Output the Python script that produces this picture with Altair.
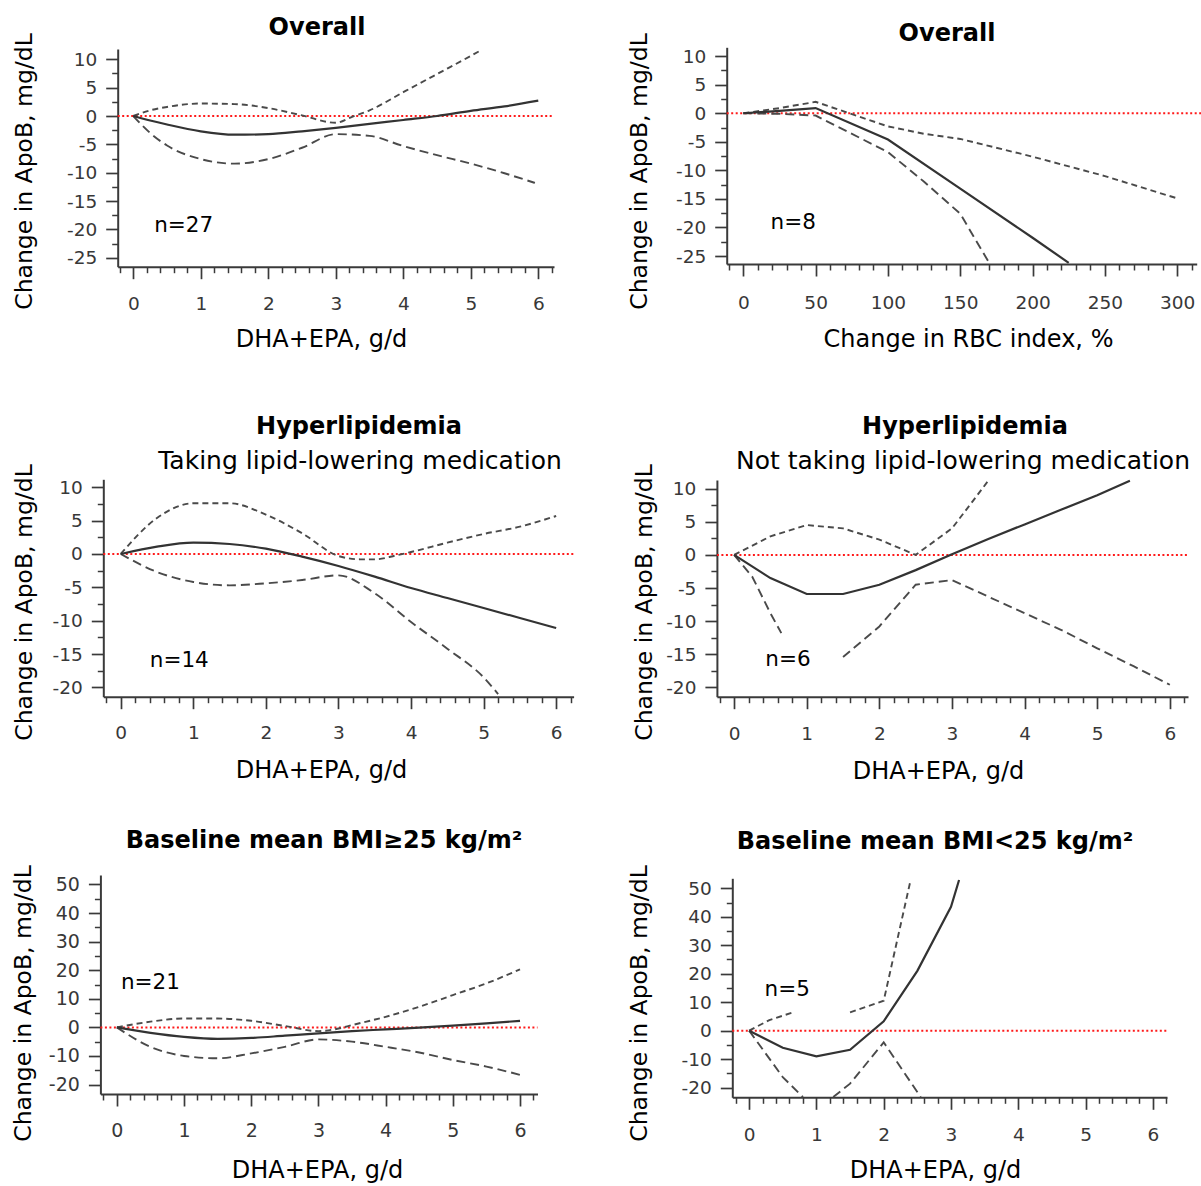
import altair as alt
import pandas as pd

FONT = "DejaVu Sans"
AXIS_INK = "#3a3a3a"
LABEL_INK = "#383838"
LINE_INK = "#333333"
DASH_INK = "#4a4a4a"
REF_RED = "#ff1a1a"
CHART_W = 1201
CHART_H = 1186

# ---------------------------------------------------------------------------
# Dose-response curves (estimate, upper and lower 95% bounds).
# None in an x list marks a break in the curve (points outside the plot range).
# ---------------------------------------------------------------------------

# Overall, DHA+EPA dose
P1_X = [0, 0.25, 0.5, 1.0, 1.5, 2.0, 2.5, 3.0, 3.5, 4.0, 4.5, 5.0, 5.5, 6.0]
P1_EST = [0, -0.8, -1.5, -2.7, -3.3, -3.2, -2.7, -2.1, -1.4, -0.7, 0.0, 0.9, 1.7, 2.7]
P1_HI_X = [0, 0.25, 0.5, 1.0, 1.5, 2.0, 2.5, 3.0, 3.25, 3.5, 4.0, 4.5, 5.0, 5.15]
P1_HI = [0, 1.0, 1.6, 2.2, 2.1, 1.4, 0.1, -1.2, -0.1, 1.0, 4.2, 7.4, 10.6, 11.6]
P1_LO_X = [0, 0.25, 0.5, 1.0, 1.5, 2.0, 2.5, 3.0, 3.5, 4.0, 4.5, 5.0, 5.5, 5.95]
P1_LO = [0, -3.0, -5.2, -7.6, -8.4, -7.6, -5.6, -3.2, -3.5, -5.3, -6.9, -8.4, -10.1, -11.8]

# Overall, change in RBC omega-3 index
P2_X = [0, 25, 50, 100, 150, 200, 225]
P2_EST = [0, 0.4, 0.9, -4.6, -13.2, -21.8, -26.2]
P2_HI_X = [0, 25, 50, 100, 125, 150, 200, 250, 300]
P2_HI = [0, 0.9, 2.0, -2.3, -3.6, -4.5, -7.6, -11.0, -14.9]
P2_LO_X = [0, 25, 50, 100, 125, 150, 170]
P2_LO = [0, -0.1, -0.4, -6.8, -12.0, -17.6, -26.2]

# Hyperlipidemia, taking lipid-lowering medication
P3_X = [0, 0.5, 1, 1.5, 2, 2.5, 3, 3.5, 4, 4.5, 5, 5.5, 6]
P3_EST = [0, 1.1, 1.7, 1.5, 0.8, -0.4, -1.8, -3.4, -5.1, -6.6, -8.1, -9.6, -11.1]
P3_HI_X = [0, 0.5, 1, 1.5, 2, 2.5, 3, 3.3, 3.5, 3.8, 4, 4.5, 5, 5.5, 6]
P3_HI = [0, 5.4, 7.6, 7.6, 5.9, 3.1, -0.3, -0.8, -0.8, -0.2, 0.3, 1.7, 3.0, 4.1, 5.7]
P3_LO_X = [0, 0.5, 1, 1.5, 2, 2.5, 3, 3.5, 4, 4.5, 5, 5.2]
P3_LO = [0, -2.7, -4.2, -4.7, -4.4, -3.9, -3.2, -5.9, -10.2, -14.2, -18.5, -21.0]

# Hyperlipidemia, not taking lipid-lowering medication
P4_X = [0, 0.5, 1, 1.5, 2, 2.5, 3, 3.5, 4, 4.5, 5, 5.45]
P4_EST = [0, -3.5, -5.9, -5.9, -4.5, -2.3, 0.1, 2.4, 4.6, 6.8, 9.0, 11.2]
P4_HI_X = [0, 0.5, 1, 1.5, 2, 2.5, 3, 3.3, 3.5]
P4_HI = [0, 2.8, 4.5, 4.0, 2.3, 0.0, 4.0, 8.3, 11.2]
P4_LO_X = [0, 0.25, 0.5, 0.65, None, 1.5, 2, 2.5, 3, 3.5, 4, 4.5, 5, 5.5, 6]
P4_LO = [0, -3.3, -8.8, -11.8, None, -15.4, -10.8, -4.5, -3.8, -6.3, -8.8, -11.3, -14.1, -16.8, -19.6]

# Baseline mean BMI >= 25
P5_X = [0, 0.5, 1, 1.5, 2, 2.5, 3, 3.5, 4, 4.5, 5, 5.5, 6]
P5_EST = [0, -1.9, -3.3, -4.0, -3.7, -2.9, -2.1, -1.3, -0.7, -0.1, 0.6, 1.4, 2.3]
P5_HI_X = [0, 0.5, 1, 1.5, 2, 2.5, 3, 3.3, 3.5, 4, 4.5, 5, 5.5, 6]
P5_HI = [0, 2.0, 3.1, 3.1, 2.3, 0.5, -1.3, -0.4, 0.8, 3.7, 7.2, 11.3, 15.4, 20.3]
P5_LO_X = [0, 0.5, 1, 1.5, 2, 2.5, 3, 3.5, 4, 4.5, 5, 5.5, 6]
P5_LO = [0, -6.8, -10.0, -10.8, -9.1, -6.8, -4.2, -5.0, -6.8, -8.8, -11.4, -13.7, -16.6]

# Baseline mean BMI < 25
P6_X = [0, 0.5, 1, 1.5, 2, 2.5, 3, 3.12]
P6_EST = [0, -6.0, -9.0, -6.7, 3.3, 21.0, 43.5, 52.9]
P6_HI_X = [0, 0.3, 0.65, None, 1.5, 2.0, 2.4]
P6_HI = [0, 3.7, 6.4, None, 6.4, 10.5, 52.9]
P6_LO_X = [0, 0.5, 0.8, None, 1.25, 1.5, 2.0, 2.55]
P6_LO = [0, -16.3, -23.3, None, -23.3, -18.6, -4.1, -23.3]

# Study counts shown in each panel
N_LABELS = ["n=27", "n=8", "n=14", "n=6", "n=21", "n=5"]

# Tick values
DOSE_MAJOR = [0, 1, 2, 3, 4, 5, 6]
DOSE_MINOR = [v / 10 for v in range(-2, 63, 2) if v % 10 != 0]
RBC_MAJOR = [0, 50, 100, 150, 200, 250, 300]
RBC_MINOR = [v for v in range(-10, 311, 10) if v % 50 != 0]
Y25_MAJOR = [10, 5, 0, -5, -10, -15, -20, -25]
Y25_MINOR = [7.5, 2.5, -2.5, -7.5, -12.5, -17.5, -22.5]
Y20_MAJOR = [10, 5, 0, -5, -10, -15, -20]
Y20_MINOR = [7.5, 2.5, -2.5, -7.5, -12.5, -17.5]
Y50_MAJOR = [50, 40, 30, 20, 10, 0, -10, -20]
Y50_MINOR = [45, 35, 25, 15, 5, -5, -15]

DOSE_TITLE = "DHA+EPA, g/d"
RBC_TITLE = "Change in RBC index, %"
Y_TITLE = "Change in ApoB, mg/dL"

# ---------------------------------------------------------------------------
# Panel layout: scale domains, pixel ranges and text placement
# ---------------------------------------------------------------------------
PANELS = [
    dict(x=P1_X, est=P1_EST, hi_x=P1_HI_X, hi=P1_HI, lo_x=P1_LO_X, lo=P1_LO,
         xdom=[-0.231, 6.233], xrng=[117.7, 554.0], ydom=[-26.58, 11.82], yrng=[266.7, 49.0],
         xmajor=DOSE_MAJOR, xminor=DOSE_MINOR, ymajor=Y25_MAJOR, yminor=Y25_MINOR,
         xtitle=DOSE_TITLE, xtitle_at=(321, 346), ytitle_at=(31, 171),
         n_at=(0.31, -20.4), ref_end=6.233, label_size=18.5, xlab_off=43, interp="monotone"),
    dict(x=P2_X, est=P2_EST, hi_x=P2_HI_X, hi=P2_HI, lo_x=P2_LO_X, lo=P2_LO,
         xdom=[-11.5, 313.5], xrng=[726.7, 1196.7], ydom=[-26.4, 11.55], yrng=[264.0, 47.3],
         xmajor=RBC_MAJOR, xminor=RBC_MINOR, ymajor=Y25_MAJOR, yminor=Y25_MINOR,
         xtitle=RBC_TITLE, xtitle_at=(968, 346), ytitle_at=(646, 171),
         n_at=(18.8, -20.2), ref_end=317, label_size=18.5, xlab_off=44, interp="linear"),
    dict(x=P3_X, est=P3_EST, hi_x=P3_HI_X, hi=P3_HI, lo_x=P3_LO_X, lo=P3_LO,
         xdom=[-0.24, 6.24], xrng=[103.3, 573.6], ydom=[-21.4, 11.2], yrng=[696.7, 479.3],
         xmajor=DOSE_MAJOR, xminor=DOSE_MINOR, ymajor=Y20_MAJOR, yminor=Y20_MINOR,
         xtitle=DOSE_TITLE, xtitle_at=(321, 777), ytitle_at=(31, 602),
         n_at=(0.40, -17.0), ref_end=6.24, label_size=18.5, xlab_off=42, interp="monotone"),
    dict(x=P4_X, est=P4_EST, hi_x=P4_HI_X, hi=P4_HI, lo_x=P4_LO_X, lo=P4_LO,
         xdom=[-0.237, 6.25], xrng=[716.9, 1188.0], ydom=[-21.4, 11.3], yrng=[696.7, 480.0],
         xmajor=DOSE_MAJOR, xminor=DOSE_MINOR, ymajor=Y20_MAJOR, yminor=Y20_MINOR,
         xtitle=DOSE_TITLE, xtitle_at=(938, 778), ytitle_at=(651, 602),
         n_at=(0.43, -16.8), ref_end=6.25, label_size=18.5, xlab_off=43, interp="linear"),
    dict(x=P5_X, est=P5_EST, hi_x=P5_HI_X, hi=P5_HI, lo_x=P5_LO_X, lo=P5_LO,
         xdom=[-0.245, 6.26], xrng=[100.4, 537.5], ydom=[-23.3, 53.3], yrng=[1094.0, 875.0],
         xmajor=DOSE_MAJOR, xminor=DOSE_MINOR, ymajor=Y50_MAJOR, yminor=Y50_MINOR,
         xtitle=DOSE_TITLE, xtitle_at=(317, 1177), ytitle_at=(30, 1003),
         n_at=(0.06, 13.6), ref_end=6.26, label_size=19, xlab_off=42, interp="monotone"),
    dict(x=P6_X, est=P6_EST, hi_x=P6_HI_X, hi=P6_HI, lo_x=P6_LO_X, lo=P6_LO,
         xdom=[-0.25, 6.21], xrng=[732.3, 1167.0], ydom=[-23.4, 53.5], yrng=[1097.3, 878.3],
         xmajor=DOSE_MAJOR, xminor=DOSE_MINOR, ymajor=Y50_MAJOR, yminor=Y50_MINOR,
         xtitle=DOSE_TITLE, xtitle_at=(935, 1177), ytitle_at=(646, 1003),
         n_at=(0.23, 12.2), ref_end=6.21, label_size=18.5, xlab_off=43, interp="linear"),
]

# Panel headings: (text, centre x, baseline y, size, weight)
HEADINGS = [
    ("Overall", 317, 35, 24, "bold"),
    ("Overall", 947, 41, 24, "bold"),
    ("Hyperlipidemia", 359, 434, 24, "bold"),
    ("Taking lipid-lowering medication", 360, 469, 25, "normal"),
    ("Hyperlipidemia", 965, 434, 24, "bold"),
    ("Not taking lipid-lowering medication", 963, 469, 25, "normal"),
    ("Baseline mean BMI\u226525 kg/m\u00b2", 324, 848, 24, "bold"),
    ("Baseline mean BMI<25 kg/m\u00b2", 935, 849, 24, "bold"),
]


def curve_frame(xs, ys):
    """Split a curve into connected segments wherever the x list holds None."""
    rows, seg = [], 0
    for xv, yv in zip(xs, ys):
        if xv is None:
            seg += 1
            continue
        rows.append({"x": xv, "y": yv, "seg": seg})
    return pd.DataFrame(rows)


def build_panel(p, n_label):
    x0, x1 = p["xrng"]
    y1, y0 = p["yrng"]
    xs = alt.Scale(domain=p["xdom"], range=p["xrng"], nice=False, zero=False)
    ys = alt.Scale(domain=p["ydom"], range=p["yrng"], nice=False, zero=False)

    x_major = alt.Axis(
        orient="bottom", offset=y1 - CHART_H, values=p["xmajor"], grid=False,
        domain=True, domainColor=AXIS_INK, domainWidth=2,
        ticks=True, tickColor=AXIS_INK, tickWidth=1.7, tickSize=12,
        labelFont=FONT, labelFontSize=p["label_size"], labelColor=LABEL_INK,
        labelBaseline="alphabetic", labelPadding=p["xlab_off"] - 12,
        labelFlush=False, labelOverlap=False, labelExpr="toString(datum.value)",
        title=p["xtitle"], titleFont=FONT, titleFontSize=24, titleFontWeight="normal",
        titleColor="#000000", titleX=p["xtitle_at"][0], titleY=p["xtitle_at"][1] - y1,
        titleAlign="center", titleBaseline="alphabetic",
    )
    y_major = alt.Axis(
        orient="left", offset=-x0, values=p["ymajor"], grid=False,
        domain=True, domainColor=AXIS_INK, domainWidth=2,
        ticks=True, tickColor=AXIS_INK, tickWidth=1.7, tickSize=12,
        labelFont=FONT, labelFontSize=p["label_size"], labelColor=LABEL_INK,
        labelAlign="right", labelBaseline="middle", labelPadding=9,
        labelFlush=False, labelOverlap=False, labelExpr="toString(datum.value)",
        title=Y_TITLE, titleFont=FONT, titleFontSize=23.5, titleFontWeight="normal",
        titleColor="#000000", titleAngle=270,
        titleX=p["ytitle_at"][0] - x0, titleY=p["ytitle_at"][1],
        titleAlign="center", titleBaseline="alphabetic",
    )
    x_minor = alt.Axis(
        orient="bottom", offset=y1 - CHART_H, values=p["xminor"], grid=False,
        domain=False, labels=False, ticks=True, tickColor=AXIS_INK,
        tickWidth=1.5, tickSize=6, title=None,
    )
    y_minor = alt.Axis(
        orient="left", offset=-x0, values=p["yminor"], grid=False,
        domain=False, labels=False, ticks=True, tickColor=AXIS_INK,
        tickWidth=1.5, tickSize=6, title=None,
    )

    ref_df = pd.DataFrame({"x0": [p["xdom"][0]], "x1": [p["ref_end"]], "y": [0.0]})

    ref = alt.Chart(ref_df).mark_rule(
        color=REF_RED, strokeWidth=2, strokeDash=[2, 2.5]
    ).encode(
        x=alt.X("x0:Q", scale=xs, axis=x_major),
        x2="x1:Q",
        y=alt.Y("y:Q", scale=ys, axis=y_major),
    )
    minor = alt.Chart(ref_df).mark_point(opacity=0).encode(
        x=alt.X("x0:Q", scale=xs, axis=x_minor),
        y=alt.Y("y:Q", scale=ys, axis=y_minor),
    )

    def curve(xv, yv, **style):
        return alt.Chart(curve_frame(xv, yv)).mark_line(
            interpolate=p["interp"], **style
        ).encode(
            x=alt.X("x:Q", scale=xs, axis=None),
            y=alt.Y("y:Q", scale=ys, axis=None),
            detail="seg:N",
        )

    upper = curve(p["hi_x"], p["hi"], color=DASH_INK, strokeWidth=1.9, strokeDash=[6, 4])
    lower = curve(p["lo_x"], p["lo"], color=DASH_INK, strokeWidth=1.9, strokeDash=[9, 5])
    est = curve(p["x"], p["est"], color=LINE_INK, strokeWidth=2.2)

    n_df = pd.DataFrame({"x": [p["n_at"][0]], "y": [p["n_at"][1]], "t": [n_label]})
    n_text = alt.Chart(n_df).mark_text(
        font=FONT, fontSize=21.5, align="left", baseline="alphabetic", color="#000000"
    ).encode(
        x=alt.X("x:Q", scale=xs, axis=None),
        y=alt.Y("y:Q", scale=ys, axis=None),
        text="t:N",
    )

    return alt.layer(ref, minor, upper, lower, est, n_text).resolve_axis(
        x="independent", y="independent"
    )


def heading(text, cx, base_y, size, weight):
    return alt.Chart(pd.DataFrame({"t": [text]})).mark_text(
        font=FONT, fontSize=size, fontWeight=weight, align="center",
        baseline="alphabetic", color="#000000",
    ).encode(x=alt.value(cx), y=alt.value(base_y), text="t:N")


panels = [build_panel(p, n) for p, n in zip(PANELS, N_LABELS)]
headings = [heading(*h) for h in HEADINGS]

chart = alt.layer(*panels, *headings).resolve_scale(
    x="independent", y="independent"
).properties(
    width=CHART_W, height=CHART_H, padding=0,
    autosize=alt.AutoSizeParams(type="none"),
).configure_view(strokeWidth=0)

chart.save("out.html", embed_options={"renderer": "svg", "actions": False})
